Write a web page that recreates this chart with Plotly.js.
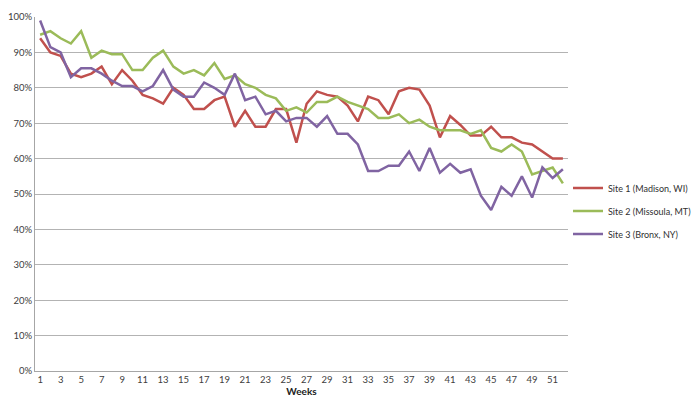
<!DOCTYPE html>
<html>
<head>
<meta charset="utf-8">
<script src="https://cdn.plot.ly/plotly-3.0.1.min.js"></script>
<style>
  body { margin: 0; background: #fff; }
  #chart { width: 698px; height: 413px; }
</style>
</head>
<body>
<div id="chart"></div>
<script>
// weekly values
var weeks = [];
for (var i = 1; i <= 52; i++) weeks.push(i);

var site1 = [94, 90, 89, 84, 83, 84, 86, 81, 85, 82, 78, 77, 75.5, 80, 78, 74, 74, 76.5, 77.5, 69,
             73.5, 69, 69, 74, 74, 64.5, 75.5, 79, 78, 77.5, 75, 70.5, 77.5, 76.5, 72.5, 79, 80, 79.5, 75, 66,
             72, 69.5, 66.5, 66.5, 69, 66, 66, 64.5, 64, 62, 60, 60];

var site2 = [95, 96, 94, 92.5, 96, 88.5, 90.5, 89.5, 89.5, 85, 85, 88.5, 90.5, 86, 84, 85, 83.5, 87, 82.5, 83.5,
             81, 80, 78, 77, 73.5, 74.5, 73, 76, 76, 77.5, 76, 75, 74, 71.5, 71.5, 72.5, 70, 71, 69, 68,
             68, 68, 67, 68, 63, 62, 64, 62, 55.5, 56.5, 57.5, 53];

var site3 = [99, 91.5, 90, 83, 85.5, 85.5, 84, 82, 80.5, 80.5, 79, 80.5, 85, 79.5, 77.5, 77.5, 81.5, 80, 78, 84,
             76.5, 77.5, 72.5, 73.5, 70.5, 71.5, 71.5, 69, 72, 67, 67, 64, 56.5, 56.5, 58, 58, 62, 56.5, 63, 56,
             58.5, 56, 57, 49.5, 45.5, 52, 49.5, 55, 49, 57.5, 54.5, 57];

var names = ['Site 1 (Madison, WI)', 'Site 2 (Missoula, MT)', 'Site 3 (Bronx, NY)'];
var colors = ['#C0504D', '#9BBB59', '#8064A2'];

function toFrac(arr) { return arr.map(v => v / 100); }

var data = [site1, site2, site3].map(function (s, k) {
    return {
        x: weeks,
        y: toFrac(s),
        type: 'scatter',
        mode: 'lines',
        name: names[k],
        legendgroup: 'g' + k,
        line: {color: colors[k], width: 2.5}
    };
});

var layout = {
    width: 698,
    height: 413,
    margin: {l: 35, r: 130, t: 17, b: 42, autoexpand: false},
    paper_bgcolor: '#fff',
    plot_bgcolor: '#fff',
    font: {family: 'Lato, "Open Sans", sans-serif', size: 10, color: '#404040'},
    showlegend: true,
    legend: {
        x: 1.0, xanchor: 'left',
        y: 0.452, yanchor: 'middle',
        font: {size: 9, color: '#303030'},
        traceorder: 'grouped',
        tracegroupgap: 4,
        bgcolor: 'rgba(0,0,0,0)'
    },
    xaxis: {
        range: [0.5, 52.5],
        tickmode: 'array',
        tickvals: weeks.filter(w => w % 2 == 1),
        showgrid: false,
        zeroline: false,
        showline: true,
        linecolor: '#a6a6a6',
        linewidth: 1,
        ticks: '',
        tickfont: {size: 9.5},
        title: {text: '<b>Weeks</b>', font: {size: 10, color: '#202020'}, standoff: 2}
    },
    yaxis: {
        range: [0, 1],
        dtick: 0.1,
        tickformat: '.0%',
        showgrid: true,
        gridcolor: '#b3b3b3',
        gridwidth: 1,
        zeroline: false,
        showline: true,
        linecolor: '#a6a6a6',
        ticks: '',
        tickfont: {size: 9.5},
        fixedrange: true
    }
};

Plotly.newPlot('chart', data, layout, {displayModeBar: false, staticPlot: true});
</script>
</body>
</html>
